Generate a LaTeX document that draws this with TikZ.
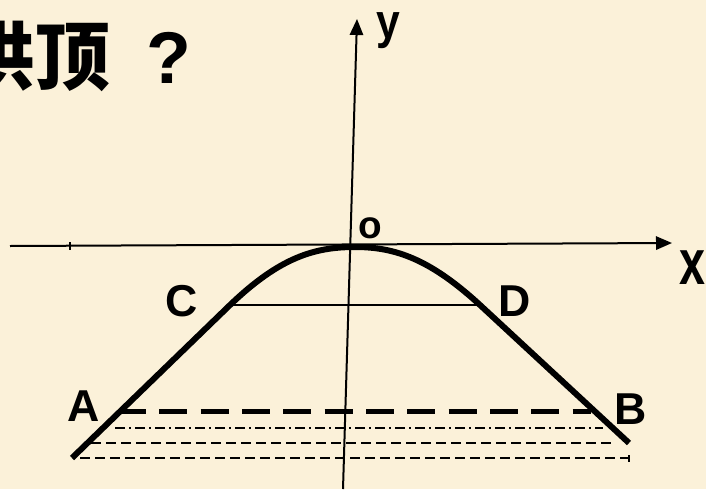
\documentclass[tikz,border=0pt]{standalone}
\usepackage{fontspec}
\usepackage{graphicx}
\setmainfont{Liberation Sans}
\newfontfamily\cjk{Noto Sans CJK SC}
\usetikzlibrary{arrows.meta}
\definecolor{bg}{HTML}{FBF1D9}
\begin{document}
\begin{tikzpicture}[x=0.75pt,y=-0.75pt,
  axisline/.style={line width=1.5pt,-{Triangle[length=12pt,width=10pt]}},
  arch/.style={line width=4.5pt},
  thinline/.style={line width=1.1pt},
  bigdash/.style={line width=3.75pt,dash pattern=on 21pt off 10pt},
  smalldash/.style={line width=1.1pt,dash pattern=on 7.5pt off 3.75pt},
  dashdotline/.style={line width=1.1pt,dash pattern=on 7.5pt off 3pt on 1.5pt off 3pt},
  lbl/.style={font=\fontsize{33.5}{40}\selectfont\bfseries,inner sep=0pt}]
\fill[bg] (0,0) rectangle (706,489);
\useasboundingbox (0,0) rectangle (706,489);
\begin{scope}
\clip (0,0) rectangle (706,489);
\node[anchor=base east,inner sep=0pt,font=\fontsize{56}{60}\selectfont\cjk\bfseries] (title) at (110,84) {拱顶};
\node[anchor=base west,inner sep=0pt,font=\fontsize{55}{60}\selectfont\bfseries] (qm) at (146,83) {?};
% axes
\coordinate (xs) at (10,246);
\coordinate (xe) at (672,243);
\coordinate (ys) at (343,489);
\coordinate (ye) at (357,19);
\draw[axisline] (xs) -- (xe);
\draw[axisline] (ys) -- (ye);
\coordinate (tk1) at (70,242);
\coordinate (tk2) at (70,250);
\draw[line width=1pt] (tk1) -- (tk2);
% arch
\coordinate (Aend) at (72,458);
\coordinate (Cp) at (230,305);
\coordinate (Op) at (355,247);
\coordinate (Dp) at (480,305);
\coordinate (Bend) at (629,443);
\draw[arch] (Aend) -- (Cp) .. controls (280,257) and (315,247) .. (Op)
  .. controls (395,247) and (430,259) .. (Dp) -- (Bend);
\draw[thinline] (Cp) -- (Dp);
% water lines
\coordinate (a1) at (118,411); \coordinate (b1) at (591,411);
\coordinate (a2) at (115,428); \coordinate (b2) at (603,428);
\coordinate (a3) at (91,443);  \coordinate (b3) at (613,443);
\coordinate (a4) at (80,458);  \coordinate (b4) at (629,458);
\draw[bigdash] (a1) -- (b1);
\draw[dashdotline] (a2) -- (b2);
\draw[smalldash] (a3) -- (b3);
\draw[smalldash] (a4) -- (b4);
\coordinate (t1) at (629,455); \coordinate (t2) at (629,462);
\draw[line width=0.8pt] (t1) -- (t2);
% labels
\node[lbl] (lA) at (84,406) {A};
\node[lbl] (lB) at (631,409) {B};
\node[lbl] (lC) at (182,301) {C};
\node[lbl] (lD) at (515,301) {D};
\node[inner sep=0pt,font=\fontsize{29}{34}\selectfont\bfseries] (lO) at (370,228) {o};
\node[inner sep=0pt,font=\fontsize{35}{40}\selectfont\bfseries] (lx) at (692,268) {\scalebox{1}[1.37]{x}};
\node[inner sep=0pt,font=\fontsize{32}{36}\selectfont\bfseries] (ly) at (388,31) {\scalebox{1}[1.15]{y}};
\end{scope}
\end{tikzpicture}
\end{document}
